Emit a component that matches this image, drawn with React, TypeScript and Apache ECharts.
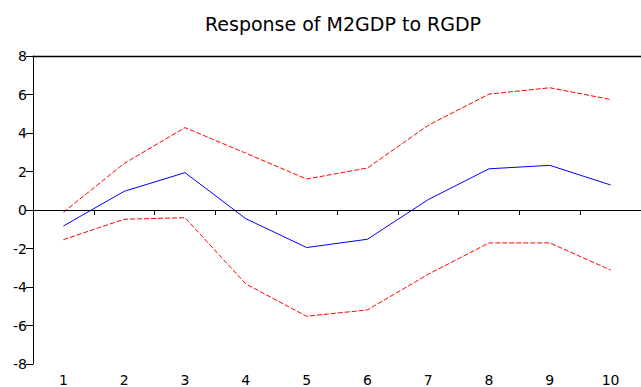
import React, { useEffect, useRef } from "react";
import * as echarts from "echarts";

const categories = ["1", "2", "3", "4", "5", "6", "7", "8", "9", "10"];
const response = [-0.83, 0.97, 1.94, -0.45, -1.95, -1.52, 0.54, 2.14, 2.32, 1.3];
const upperBand = [-0.12, 2.42, 4.28, 2.95, 1.61, 2.18, 4.4, 6.02, 6.35, 5.74];
const lowerBand = [-1.54, -0.48, -0.4, -3.84, -5.52, -5.19, -3.34, -1.71, -1.71, -3.12];
const titleText = "Response of M2GDP to RGDP";

export default function App() {
  const ref = useRef<HTMLDivElement>(null);
  useEffect(() => {
    if (!ref.current) return;
    const chart = echarts.init(ref.current, null, { renderer: "svg" });
    const labelFont = { fontFamily: "DejaVu Sans", fontSize: 14, color: "#000" };
    chart.setOption({
      animation: false,
      backgroundColor: "#fff",
      title: {
        text: titleText,
        left: 338,
        textAlign: "center",
        top: 9,
        textStyle: { fontFamily: "DejaVu Sans", fontSize: 19, fontWeight: "normal", color: "#000" },
      },
      grid: {
        left: 33,
        right: -3,
        top: 56,
        bottom: 23,
        show: false,
      },
      xAxis: [
        {
          type: "category",
          data: categories,
          boundaryGap: true,
          axisLine: { show: true, lineStyle: { color: "#000", width: 1 } },
          axisTick: { show: true, length: 5, alignWithLabel: false, lineStyle: { color: "#000" } },
          axisLabel: { ...labelFont, margin: 9, interval: 0 },
          splitLine: { show: false },
        },
        {
          type: "category",
          position: "top",
          data: categories,
          boundaryGap: true,
          axisLine: { show: true, lineStyle: { color: "#000", width: 1.3 } },
          axisTick: { show: false },
          axisLabel: { show: false },
          splitLine: { show: false },
        },
      ],
      yAxis: {
        type: "value",
        min: -8,
        max: 8,
        interval: 2,
        axisLine: { show: true, lineStyle: { color: "#000", width: 1 } },
        axisTick: { show: true, length: 7, lineStyle: { color: "#000" } },
        axisLabel: { ...labelFont, margin: 6 },
        splitLine: { show: false },
      },
      series: [
        {
          type: "line",
          data: upperBand,
          symbol: "none",
          lineStyle: { color: "#ff0000", width: 1, type: [5, 2] },
          silent: true,
        },
        {
          type: "line",
          data: lowerBand,
          symbol: "none",
          lineStyle: { color: "#ff0000", width: 1, type: [5, 2] },
          silent: true,
        },
        {
          type: "line",
          data: response,
          symbol: "none",
          lineStyle: { color: "#0000ff", width: 1 },
          silent: true,
          markLine: {
            silent: true,
            symbol: "none",
            label: { show: false },
            lineStyle: { color: "#000", width: 1, type: "solid" },
            data: [{ yAxis: 0 }],
          },
        },
      ],
    });
    return () => chart.dispose();
  }, []);
  return (
    <div
      ref={ref}
      style={{ position: "fixed", left: 0, top: 0, width: 641, height: 387, background: "#fff" }}
    />
  );
}
